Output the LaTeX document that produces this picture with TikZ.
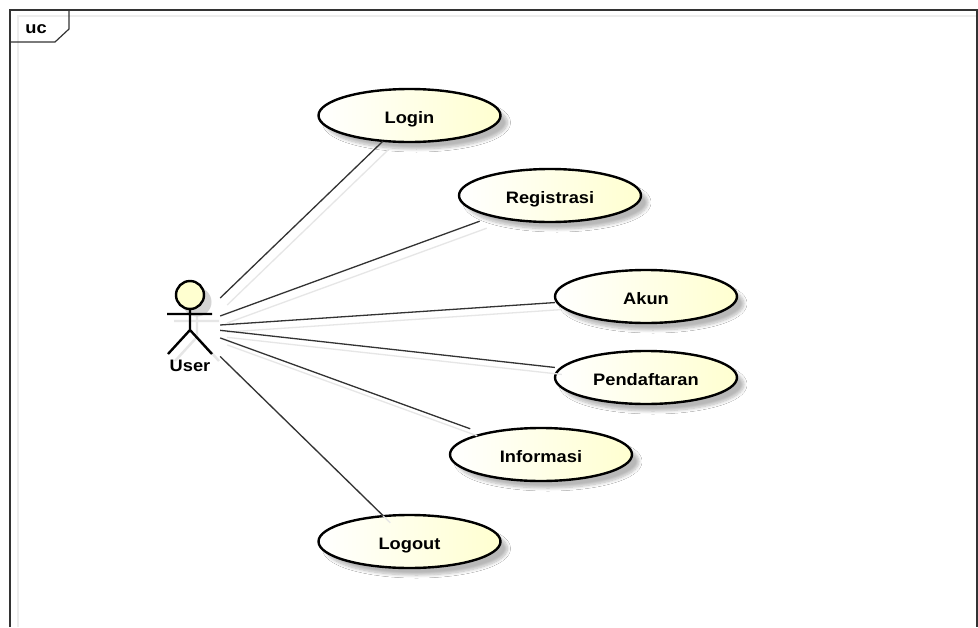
\documentclass[tikz,border=0pt]{standalone}
\usepackage{fontspec}
\setmainfont{Liberation Sans}[FakeStretch=1.1]
\usetikzlibrary{shapes.geometric,shadows.blur}
\definecolor{ucyellow}{HTML}{FFFFD0}
\definecolor{shadowgray}{HTML}{D4D4D4}
\definecolor{lineshadow}{HTML}{E6E6E6}
\newcommand{\ucfont}{\fontsize{16.6}{18}\selectfont\bfseries}
\tikzset{
  ucshape/.style={ellipse,draw=black,line width=2.4pt,left color=white,right color=ucyellow,
    minimum width=182pt,minimum height=53pt,inner sep=0pt,
    blur shadow={shadow xshift=7pt,shadow yshift=-7pt,shadow blur steps=8,shadow blur radius=3pt,shadow opacity=28}},
  ucbox/.style={rectangle,minimum width=182pt,minimum height=51pt,inner sep=0pt,
    font=\ucfont,text height=15pt,text depth=0pt},
  actorbox/.style={rectangle,minimum width=60pt,minimum height=60pt,inner sep=0pt},
  assoc/.style={draw=black!80,line width=1.3pt},
  assocshadow/.style={draw=lineshadow,line width=1.3pt,transform canvas={shift={(7pt,-7pt)}}},
  limb/.style={draw=black,line width=2.4pt},
  limbshadow/.style={draw=lineshadow,line width=2.4pt,transform canvas={shift={(7pt,-7pt)}}},
  frameline/.style={draw=black!80,line width=1.2pt},
  frameshadow/.style={draw=black!7,line width=2pt},
  labeltext/.style={font=\ucfont,inner sep=0pt,text height=13pt,text depth=0pt}
}
\newcommand{\usecase}[3]{%
  \node[ucshape] (#1shape) at (#2) {};
  \node[ucbox] (#1) at (#2) {#3};}
\begin{document}
\begin{tikzpicture}[x=1pt,y=-1pt]
\useasboundingbox (0,0) rectangle (978,627);
\fill[white] (0,0) rectangle (978,627);
% frame
\draw[frameshadow] (18,627) -- (18,16) -- (978,16);
\draw[frameline] (10,627) -- (10,10) -- (977,10) -- (977,627);
\coordinate (tabA) at (10,42);
\coordinate (tabB) at (55,42);
\coordinate (tabC) at (69,29);
\coordinate (tabD) at (69,10);
\draw[frameline] (tabA) -- (tabB) -- (tabC) -- (tabD);
\node[labeltext] (uc) at (36,27) {uc};
% use cases
\usecase{login}{409.5,115.5}{Login}
\usecase{regis}{550,195.5}{Registrasi}
\usecase{akun}{646,296.5}{Akun}
\usecase{daftar}{646,377.5}{Pendaftaran}
\usecase{info}{541,454.5}{Informasi}
\usecase{logout}{409.5,541.5}{Logout}
% actor
\node[actorbox] (actor) at (190,327) {};
\coordinate (neck) at (190,309);
\coordinate (hip) at (190,330);
\coordinate (armL) at (167,314);
\coordinate (armR) at (212,314);
\coordinate (legL) at (168,354);
\coordinate (legR) at (212,354);
\draw[limbshadow] (neck) -- (hip) (armL) -- (armR) (legL) -- (hip) -- (legR);
\fill[shadowgray,transform canvas={shift={(7pt,-7pt)}}] (190,295) circle (14.5pt);
\draw[limb] (neck) -- (hip) (armL) -- (armR) (legL) -- (hip) -- (legR);
\node[circle,draw=black,line width=2.4pt,fill=ucyellow,minimum size=28pt,inner sep=0pt] (head) at (190,295) {};
\node[labeltext] (user) at (190,365) {User};
% associations
\draw[assocshadow] (actor) -- (login);
\draw[assocshadow] (actor) -- (regis);
\draw[assocshadow] (actor) -- (akun);
\draw[assocshadow] (actor) -- (daftar);
\draw[assocshadow] (actor) -- (info);
\draw[assocshadow] (actor) -- (logout);
\draw[assoc] (actor) -- (login);
\draw[assoc] (actor) -- (regis);
\draw[assoc] (actor) -- (akun);
\draw[assoc] (actor) -- (daftar);
\draw[assoc] (actor) -- (info);
\draw[assoc] (actor) -- (logout);
\end{tikzpicture}
\end{document}
